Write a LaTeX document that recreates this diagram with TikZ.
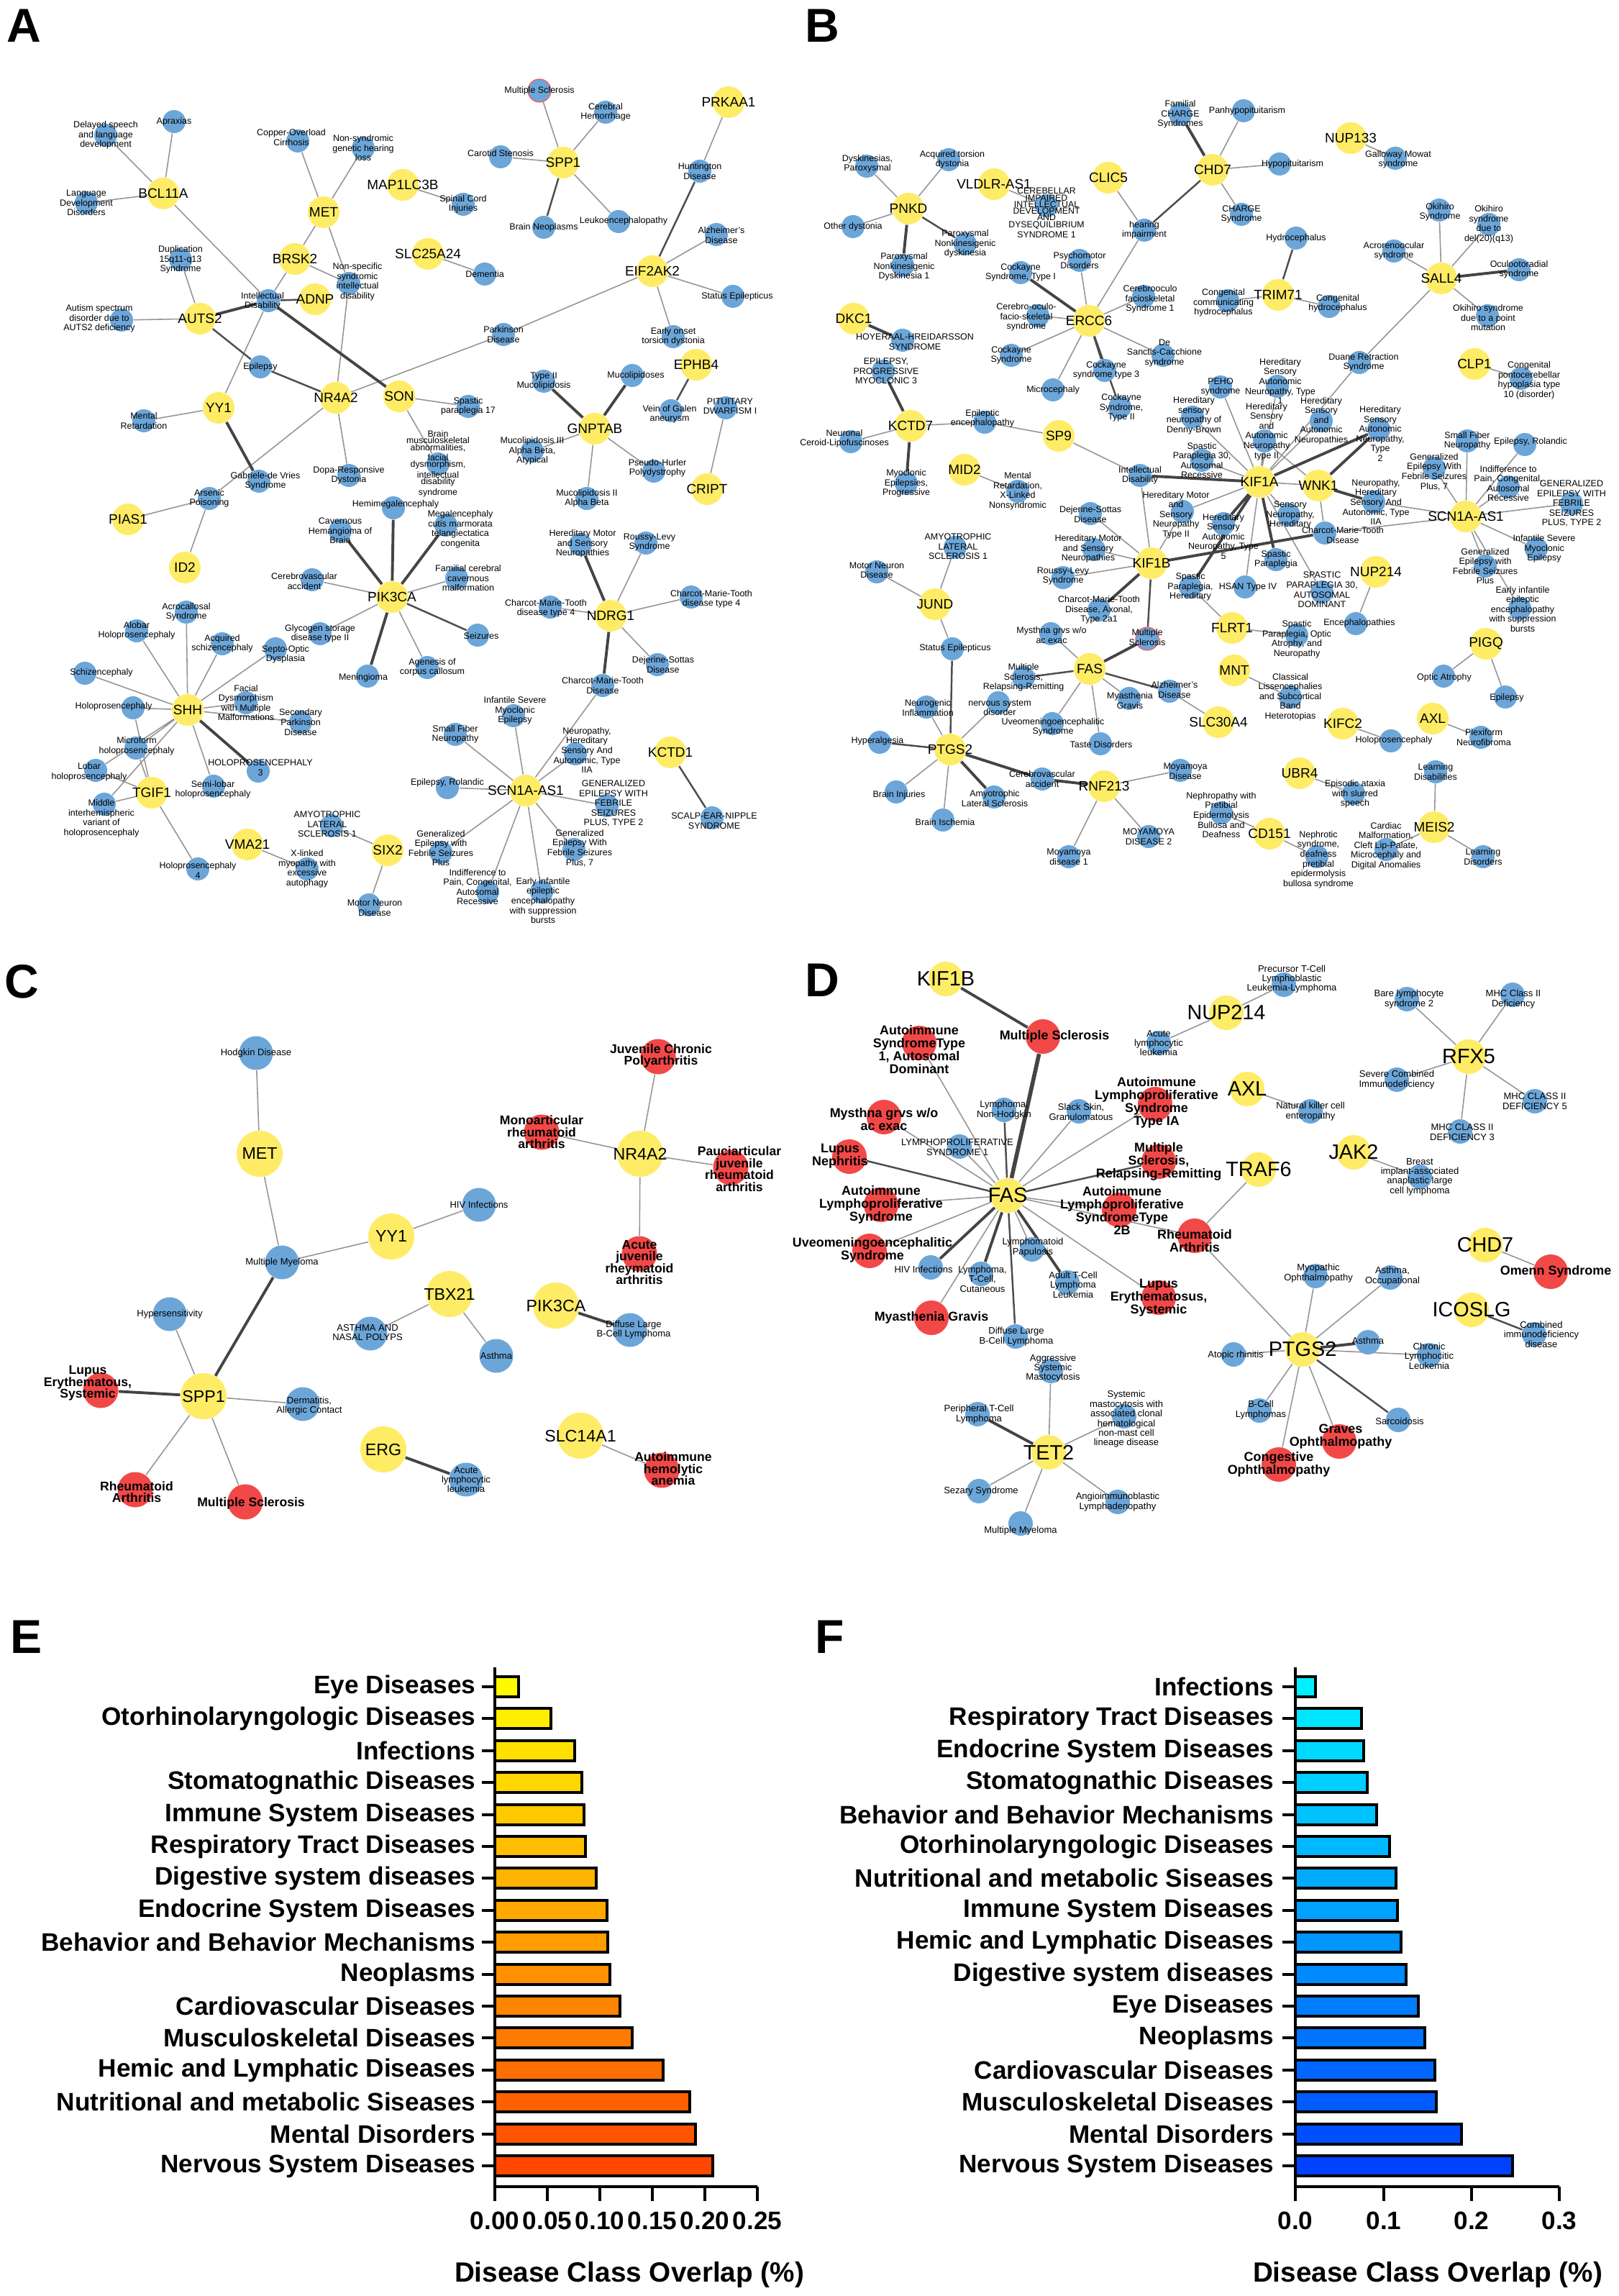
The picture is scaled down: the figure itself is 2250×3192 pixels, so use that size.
\documentclass[tikz,border=0pt]{standalone}
\usepackage{fontspec}
\setmainfont{Liberation Sans}
\usepackage{xcolor}

\definecolor{geneyel}{RGB}{255,236,102}
\definecolor{disblue}{RGB}{108,166,217}
\definecolor{disred}{RGB}{242,72,72}
\definecolor{edgegray}{RGB}{150,150,150}
\definecolor{edgedark}{RGB}{68,68,68}

\pgfdeclarelayer{edges}
\pgfsetlayers{edges,main}

% one circle now, its text kept for the end
\makeatletter
\newcommand{\labellist}{}
\newcommand{\netnode}[6][0,0]{%
  \node[#2] (#4) at (#5) {};%
  \g@addto@macro\labellist{\node[#3,shift={(#1)}] at (#5) {#6};}}
\makeatother
\newcommand{\gnA}[3]{\netnode{gene}{glab}{#1}{#2}{#3}}
\newcommand{\dsA}[4][0,0]{\netnode[#1]{dis}{dlab}{#2}{#3}{#4}}
\newcommand{\gnC}[3]{\netnode{cgene}{cglab}{#1}{#2}{#3}}
\newcommand{\dsC}[4][0,0]{\netnode[#1]{cdis}{cdlab}{#2}{#3}{#4}}
\newcommand{\rdC}[4][0,0]{\netnode[#1]{cred}{crlab}{#2}{#3}{#4}}
\newcommand{\gnD}[3]{\netnode{dgene}{dglab}{#1}{#2}{#3}}
\newcommand{\dsD}[4][0,0]{\netnode[#1]{ddis}{ddlab}{#2}{#3}{#4}}
\newcommand{\rdD}[4][0,0]{\netnode[#1]{dred}{drlab}{#2}{#3}{#4}}

\begin{document}
\begin{tikzpicture}[x=0.01cm, y=-0.01cm,
gene/.style={circle, fill=geneyel, minimum size=0.44cm, inner sep=0},
dis/.style={circle, fill=disblue, minimum size=0.32cm, inner sep=0},
msdis/.style={dis, draw=red!65, line width=0.35pt},
glab/.style={font=\fontsize{5.4}{6}\selectfont, inner sep=0},
dlab/.style={font=\fontsize{3.55}{3.85}\selectfont, align=center, inner sep=0},
tightlab/.style={dlab, font=\fontsize{3.5}{2.65}\selectfont},
cgene/.style={circle, fill=geneyel, minimum size=0.64cm, inner sep=0},
cdis/.style={circle, fill=disblue, minimum size=0.47cm, inner sep=0},
cred/.style={circle, fill=disred, minimum size=0.49cm, inner sep=0},
cglab/.style={font=\fontsize{6.6}{7}\selectfont, inner sep=0},
cdlab/.style={font=\fontsize{3.7}{3.7}\selectfont, align=center, inner sep=0},
crlab/.style={font=\bfseries\fontsize{5}{4.7}\selectfont, align=center, inner sep=0},
dgene/.style={circle, fill=geneyel, minimum size=0.48cm, inner sep=0},
ddis/.style={circle, fill=disblue, minimum size=0.34cm, inner sep=0},
dred/.style={circle, fill=disred, minimum size=0.48cm, inner sep=0},
dglab/.style={font=\fontsize{8.2}{9}\selectfont, inner sep=0},
ddlab/.style={font=\fontsize{3.7}{3.8}\selectfont, align=center, inner sep=0},
drlab/.style={font=\bfseries\fontsize{5.1}{5.1}\selectfont, align=center, inner sep=0},
e/.style={draw=edgegray, line width=0.45pt},
em/.style={draw=edgedark!85!gray, line width=0.7pt},
et/.style={draw=edgedark, line width=1.1pt},
ev/.style={draw=edgedark, line width=1.6pt},
letter/.style={font=\bfseries\fontsize{18.8}{20}\selectfont, inner sep=0},
bar/.style={draw=black, line width=0.9pt},
axis/.style={line width=1.3pt},
blab/.style={font=\bfseries\fontsize{10}{11}\selectfont, anchor=east, inner sep=0},
tlab/.style={font=\bfseries\fontsize{10}{11}\selectfont, inner sep=0},
ttl/.style={font=\bfseries\fontsize{11}{12}\selectfont, inner sep=0}]

\useasboundingbox (0,0) rectangle (2250,3192);
\begin{pgfonlayer}{edges}
\fill[white] (0,0) rectangle (2250,3192);
\end{pgfonlayer}

% panel letters
\node[letter] (lA) at (33,36) {A};
\node[letter] (lB) at (1143,36) {B};
\node[letter] (lC) at (30,1365) {C};
\node[letter] (lD) at (1143,1363) {D};
\node[letter] (lE) at (37,2276) {E};
\node[letter] (lF) at (1154,2276) {F};

% ---------------- panel A
\gnA{aBCL}{227,269}{BCL11A}
\dsA{aApr}{242,169}{Apraxias}
\dsA{aDel}{147,188}{Delayed speech\\and language\\development}
\dsA{aLang}{120,282}{Language\\Development\\Disorders}
\gnA{aMET}{450,295}{MET}
\dsA[-9,-5]{aCop}{414,196}{Copper-Overload\\Cirrhosis}
\dsA{aNsh}{505,206}{Non-syndromic\\genetic hearing\\loss}
\gnA{aBRSK}{410,360}{BRSK2}
\gnA{aADNP}{438,416}{ADNP}
\dsA[-8,1]{aID}{373,418}{Intellectual\\Disability}
\dsA[12,-2]{aNsid}{485,394}{Non-specific\\syndromic\\intellectual\\disability}
\dsA{aDup}{251,361}{Duplication\\15q11-q13\\Syndrome}
\gnA{aAUTS}{278,443}{AUTS2}
\dsA[-31,-2]{aAsd}{169,445}{Autism spectrum\\disorder due to\\AUTS2 deficiency}
\dsA{aEpi}{362,510}{Epilepsy}
\gnA{aNR4}{467,553}{NR4A2}
\gnA{aSON}{555,551}{SON}
\gnA{aYY1}{304,567}{YY1}
\dsA{aMR}{200,585}{Mental\\Retardation}
\gnA{aMAP}{560,257}{MAP1LC3B}
\gnA{aSLC}{595,353}{SLC25A24}
\dsA{aDem}{674,381}{Dementia}
\dsA{aSci}{644,284}{Spinal Cord\\Injuries}
\gnA{aSPP}{783,226}{SPP1}
\netnode{msdis}{dlab}{aMS}{750,126}{Multiple Sclerosis}
\dsA{aCh}{842,156}{Cerebral\\Hemorrhage}
\dsA[0,-5]{aCs}{696,218}{Carotid Stenosis}
\dsA{aBn}{756,316}{Brain Neoplasms}
\dsA[7,-1]{aLeu}{860,308}{Leukoencephalopathy}
\gnA{aPRK}{1013,142}{PRKAA1}
\dsA{aHun}{973,238}{Huntington\\Disease}
\gnA{aEIF}{907,377}{EIF2AK2}
\dsA[7,1]{aAlz}{996,326}{Alzheimer's\\Disease}
\dsA[6,0]{aSE}{1019,412}{Status Epilepticus}
\dsA{aEotd}{936,468}{Early onset\\torsion dystonia}
\dsA{aPD}{700,465}{Parkinson\\Disease}
\gnA{aEPH}{968,507}{EPHB4}
\dsA[-2,5]{aVog}{933,571}{Vein of Galen\\aneurysm}
\dsA[6,-2]{aPit}{1009,567}{PITUITARY\\DWARFISM I}
\gnA{aCRI}{983,680}{CRIPT}
\dsA{aSp17}{651,565}{Spastic\\paraplegia 17}
\gnA{aGNP}{827,596}{GNPTAB}
\dsA{aMl2}{756,530}{Type II\\Mucolipidosis}
\dsA[5,0]{aMls}{879,522}{Mucolipidoses}
\dsA{aMl3}{740,627}{Mucolipidosis III\\Alpha Beta,\\Atypical}
\dsA[5,-4]{aPhp}{909,655}{Pseudo-Hurler\\Polydystrophy}
\dsA{aMl2ab}{816,693}{Mucolipidosis II\\Alpha Beta}
\netnode{dis}{tightlab}{aBms}{609,645}{Brain\\musculoskeletal\\abnormalities,\\facial\\dysmorphism,\\intellectual\\disability\\syndrome}
\dsA{aDopa}{485,661}{Dopa-Responsive\\Dystonia}
\dsA[9,0]{aGdv}{360,669}{Gabriele-de Vries\\Syndrome}
\dsA{aArs}{291,693}{Arsenic\\Poisoning}
\gnA{aPIAS}{178,722}{PIAS1}
\gnA{aID2}{257,789}{ID2}
\dsA[3,-5]{aHme}{547,706}{Hemimegalencephaly}
\dsA{aCav}{473,738}{Cavernous\\Hemangioma of\\Brain}
\dsA[-11,2]{aCva}{434,806}{Cerebrovascular\\accident}
\gnA{aPIK}{545,830}{PIK3CA}
\dsA[20,6]{aMeg}{620,730}{Megalencephaly\\cutis marmorata\\telangiectatica\\congenita}
\dsA[16,0]{aFcc}{635,804}{Familial cerebral\\cavernous\\malformation}
\dsA[5,1]{aSei}{664,883}{Seizures}
\dsA[7,0]{aAge}{594,928}{Agenesis of\\corpus callosum}
\dsA[-6,2]{aMen}{511,940}{Meningioma}
\dsA{aGly}{445,881}{Glycogen storage\\disease type II}
\dsA[14,8]{aSod}{383,902}{Septo-Optic\\Dysplasia}
\dsA{aAcs}{309,895}{Acquired\\schizencephaly}
\dsA{aAcr}{259,851}{Acrocallosal\\Syndrome}
\dsA{aAlo}{190,877}{Alobar\\Holoprosencephaly}
\dsA[23,-1]{aSch}{118,936}{Schizencephaly}
\gnA{aSHH}{261,987}{SHH}
\dsA[-27,-2]{aHol}{185,984}{Holoprosencephaly}
\dsA{aFac}{342,977}{Facial\\Dysmorphism\\with Multiple\\Malformations}
\dsA{aSec}{418,1004}{Secondary\\Parkinson\\Disease}
\dsA[1,-3]{aMic}{189,1040}{Microform\\holoprosencephaly}
\dsA[3,-5]{aHpe}{359,1072}{HOLOPROSENCEPHALY\\3}
\dsA[-9,2]{aLob}{133,1071}{Lobar\\holoprosencephaly}
\dsA[-1,5]{aSemi}{297,1093}{Semi-lobar\\holoprosencephaly}
\gnA{aTGIF}{211,1102}{TGIF1}
\dsA[-4,20]{aMid}{145,1118}{Middle\\interhemispheric\\variant of\\holoprosencephaly}
\dsA[0,2]{aHol4}{275,1208}{Holoprosencephaly\\4}
\gnA{aVMA}{344,1174}{VMA21}
\dsA{aXlm}{427,1208}{X-linked\\myopathy with\\excessive\\autophagy}
\dsA[-6,-2]{aAls}{461,1148}{AMYOTROPHIC\\LATERAL\\SCLEROSIS 1}
\gnA{aSIX}{539,1182}{SIX2}
\dsA[8,4]{aMnd}{513,1258}{Motor Neuron\\Disease}
\gnA{aSCN}{731,1099}{SCN1A-AS1}
\dsA{aCmt}{838,953}{Charcot-Marie-Tooth\\Disease}
\gnA{aNDR}{849,856}{NDRG1}
\dsA[3,-1]{aHmsn}{807,757}{Hereditary Motor\\and Sensory\\Neuropathies}
\dsA[5,-1]{aRl}{898,755}{Roussy-Levy\\Syndrome}
\dsA[-6,2]{aCmta}{765,844}{Charcot-Marie-Tooth\\disease type 4}
\dsA[28,3]{aCmtb}{961,830}{Charcot-Marie-Tooth\\disease type 4}
\dsA[8,0]{aDss}{914,924}{Dejerine-Sottas\\Disease}
\dsA[2,-7]{aIsme}{714,995}{Infantile Severe\\Myoclonic\\Epilepsy}
\dsA{aSfn}{633,1021}{Small Fiber\\Neuropathy}
\dsA[16,-5]{aHsan}{800,1048}{Neuropathy,\\Hereditary\\Sensory And\\Autonomic, Type\\IIA}
\dsA[0,-7]{aRol}{622,1095}{Epilepsy, Rolandic}
\dsA[9,-3]{aGefsb}{844,1120}{GENERALIZED\\EPILEPSY WITH\\FEBRILE\\SEIZURES\\PLUS, TYPE 2}
\gnA{aKCT}{932,1046}{KCTD1}
\dsA[3,4]{aSen}{990,1137}{SCALP-EAR-NIPPLE\\SYNDROME}
\dsA[0,-6]{aGefs}{613,1185}{Generalized\\Epilepsy with\\Febrile Seizures\\Plus}
\dsA[8,-2]{aGefsc}{798,1181}{Generalized\\Epilepsy With\\Febrile Seizures\\Plus, 7}
\dsA[-14,-7]{aInd}{678,1240}{Indifference to\\Pain, Congenital,\\Autosomal\\Recessive}
\dsA[2,12]{aEie}{753,1240}{Early infantile\\epileptic\\encephalopathy\\with suppression\\bursts}

\begin{pgfonlayer}{edges}
\draw[e] (aBCL)--(aApr) (aBCL)--(aDel) (aBCL)--(aLang) (aBCL)--(aID)
  (aMET)--(aCop) (aMET)--(aNsh) (aMET)--(aBRSK) (aMET)--(aNsid) (aBRSK)--(aNsid) (aBRSK)--(aID) (aNsid)--(aNR4)
  (aAUTS)--(aDup) (aAUTS)--(aAsd) (aID)--(aYY1) (aNR4)--(aPD) (aPD)--(aEIF) (aSON)--(aSp17) (aSON)--(aBms)
  (aYY1)--(aMR) (aNR4)--(aArs) (aNR4)--(aDopa) (aPIAS)--(aArs) (aID2)--(aArs) (aMAP)--(aSci) (aSLC)--(aDem)
  (aSPP)--(aMS) (aSPP)--(aCh) (aSPP)--(aCs) (aSPP)--(aLeu) (aPRK)--(aHun) (aEIF)--(aAlz) (aEIF)--(aSE) (aEIF)--(aEotd)
  (aCRI)--(aPit) (aGNP)--(aMl3) (aGNP)--(aMl2ab) (aGNP)--(aPhp)
  (aPIK)--(aCva) (aPIK)--(aGly) (aPIK)--(aFcc) (aPIK)--(aAge)
  (aSHH)--(aAcr) (aSHH)--(aAlo) (aSHH)--(aAcs) (aSHH)--(aSch) (aSHH)--(aHol) (aSHH)--(aFac) (aSHH)--(aSec)
  (aSHH)--(aSemi) (aSHH)--(aMic) (aSHH)--(aLob) (aSHH)--(aMid) (aSHH)--(aSod)
  (aTGIF)--(aHol) (aTGIF)--(aMic) (aTGIF)--(aLob) (aTGIF)--(aMid) (aTGIF)--(aHol4)
  (aVMA)--(aXlm) (aSIX)--(aAls) (aSIX)--(aMnd)
  (aNDR)--(aRl) (aNDR)--(aCmta) (aNDR)--(aCmtb) (aNDR)--(aDss) (aCmt)--(aSCN)
  (aSCN)--(aIsme) (aSCN)--(aSfn) (aSCN)--(aHsan) (aSCN)--(aRol) (aSCN)--(aGefsb) (aSCN)--(aGefs)
  (aSCN)--(aGefsc) (aSCN)--(aInd) (aSCN)--(aEie);
\draw[em] (aADNP)--(aID) (aAUTS)--(aEpi) (aEpi)--(aNR4) (aSPP)--(aBn) (aHun)--(aEIF) (aEPH)--(aVog)
  (aPIK)--(aSei) (aKCT)--(aSen);
\draw[et] (aAUTS)--(aID) (aID)--(aSON) (aYY1)--(aGdv) (aGNP)--(aMl2) (aGNP)--(aMls) (aPIK)--(aHme)
  (aPIK)--(aCav) (aPIK)--(aMeg) (aPIK)--(aMen) (aSHH)--(aHpe) (aNDR)--(aHmsn) (aNDR)--(aCmt);
\end{pgfonlayer}

% ---------------- panel B
\gnA{bPNKD}{1263,290}{PNKD}
\dsA[1,-3]{bDysk}{1205,231}{Dyskinesias,\\Paroxysmal}
\dsA[5,0]{bAtd}{1319,222}{Acquired torsion\\dystonia}
\dsA{bOd}{1186,315}{Other dystonia}
\dsA[2,2]{bPnkda}{1255,369}{Paroxysmal\\Nonkinesigenic\\Dyskinesia 1}
\dsA{bPnd}{1342,339}{Paroxysmal\\Nonkinesigenic\\dyskinesia}
\gnA{bVLD}{1382,256}{VLDLR-AS1}
\netnode[0,10]{dis}{tightlab}{bCer}{1455,286}{CEREBELLAR\\IMPAIRED\\INTELLECTUAL\\DEVELOPMENT\\AND\\DYSEQUILIBRIUM\\SYNDROME 1}
\gnA{bCLIC}{1541,247}{CLIC5}
\dsA{bHi}{1591,320}{hearing\\impairment}
\gnA{bCHD}{1686,236}{CHD7}
\dsA{bFcs}{1641,159}{Familial\\CHARGE\\Syndromes}
\dsA[5,0]{bPan}{1729,154}{Panhypopituitarism}
\dsA[18,0]{bHyp}{1779,228}{Hypopituitarism}
\dsA{bCs}{1726,298}{CHARGE\\Syndrome}
\gnA{bNUP}{1878,192}{NUP133}
\dsA[4,2]{bGal}{1940,220}{Galloway Mowat\\syndrome}
\gnA{bTRIM}{1777,410}{TRIM71}
\dsA{bHyd}{1802,331}{Hydrocephalus}
\dsA[-6,3]{bCch}{1707,418}{Congenital\\communicating\\hydrocephalus}
\dsA[12,-4]{bChy}{1848,426}{Congenital\\hydrocephalus}
\gnA{bSALL}{2004,387}{SALL4}
\dsA[1,3]{bOki}{2001,292}{Okihiro\\Syndrome}
\dsA{bOkd}{2070,312}{Okihiro\\syndrome\\due to\\del(20)(q13)}
\dsA{bAcro}{1938,349}{Acrorenoocular\\syndrome}
\dsA{bOcu}{2112,375}{Oculootoradial\\syndrome}
\dsA[1,3]{bOkp}{2068,439}{Okihiro syndrome\\due to a point\\mutation}
\dsA[6,0]{bDua}{1890,504}{Duane Retraction\\Syndrome}
\gnA{bCLP}{2050,506}{CLP1}
\dsA[11,3]{bCph}{2115,526}{Congenital\\pontocerebellar\\hypoplasia type\\10 (disorder)}
\gnA{bERCC}{1514,446}{ERCC6}
\dsA{bPsy}{1501,362}{Psychomotor\\Disorders}
\dsA{bCka}{1419,379}{Cockayne\\Syndrome, Type I}
\dsA[9,4]{bCofsa}{1590,412}{Cerebrooculo\\facioskeletal\\Syndrome 1}
\dsA[-16,2]{bCofs}{1443,439}{Cerebro-oculo-\\facio-skeletal\\syndrome}
\dsA{bCk}{1406,494}{Cockayne\\Syndrome}
\dsA[2,-3]{bDsc}{1617,494}{De\\Sanctis-Cacchione\\syndrome}
\dsA[2,0]{bCkc}{1536,515}{Cockayne\\syndrome type 3}
\dsA{bMic}{1464,542}{Microcephaly}
\dsA[2,1]{bCkb}{1557,566}{Cockayne\\Syndrome,\\Type II}
\gnA{bDKC}{1187,443}{DKC1}
\dsA[17,2]{bHh}{1255,473}{HOYERAAL-HREIDARSSON\\SYNDROME}
\dsA[4,0]{bEpm}{1228,516}{EPILEPSY,\\PROGRESSIVE\\MYOCLONIC 3}
\gnA{bKCT}{1266,592}{KCTD7}
\dsA[-9,-4]{bNcl}{1183,614}{Neuronal\\Ceroid-Lipofuscinoses}
\dsA[-3,-5]{bEe}{1369,587}{Epileptic\\encephalopathy}
\gnA{bSP}{1472,606}{SP9}
\dsA{bMep}{1260,672}{Myoclonic\\Epilepsies,\\Progressive}
\gnA{bMID}{1341,653}{MID2}
\dsA{bMrx}{1415,683}{Mental\\Retardation,\\X-Linked\\Nonsyndromic}
\gnA{bJUND}{1300,840}{JUND}
\dsA[4,-1]{bAls}{1328,761}{AMYOTROPHIC\\LATERAL\\SCLEROSIS 1}
\dsA[0,-2]{bMnd}{1219,795}{Motor Neuron\\Disease}
\dsA[4,-1]{bSE}{1324,902}{Status Epilepticus}
\gnA{bPTGS}{1321,1042}{PTGS2}
\dsA[2,1]{bNi}{1288,983}{Neurogenic\\Inflammation}
\dsA[2,7]{bNsd}{1388,977}{nervous system\\disorder}
\dsA[-3,-2]{bHyq}{1223,1032}{Hyperalgesia}
\dsA[4,4]{bBi}{1246,1101}{Brain Injuries}
\dsA[3,3]{bBis}{1311,1140}{Brain Ischemia}
\dsA[1,2]{bAlsb}{1382,1108}{Amyotrophic\\Lateral Sclerosis}
\dsA{bCva}{1449,1083}{Cerebrovascular\\accident}
\gnA{bRNF}{1535,1093}{RNF213}
\dsA{bMma}{1486,1191}{Moyamoya\\disease 1}
\dsA{bMmb}{1597,1163}{MOYAMOYA\\DISEASE 2}
\dsA[7,1]{bMmd}{1641,1071}{Moyamoya\\Disease}
\gnA{bFAS}{1515,930}{FAS}
\netnode[0,-2]{msdis}{dlab}{bMS}{1595,888}{Multiple\\Sclerosis}
\dsA[1,2]{bMg}{1461,881}{Mysthna grvs w/o\\ac exac}
\dsA{bMsrr}{1423,942}{Multiple\\Sclerosis,\\Relapsing-Remitting}
\dsA[1,3]{bMyg}{1570,971}{Myasthenia\\Gravis}
\dsA[7,-2]{bAlz}{1626,961}{Alzheimer's\\Disease}
\dsA[1,5]{bUveo}{1463,1006}{Uveomeningoencephalitic\\Syndrome}
\dsA[1,1]{bTd}{1530,1034}{Taste Disorders}
\gnA{bSLC}{1694,1004}{SLC30A4}
\gnA{bKIFb}{1601,783}{KIF1B}
\dsA{bID}{1585,661}{Intellectual\\Disability}
\dsA[0,1]{bDss}{1516,714}{Dejerine-Sottas\\Disease}
\dsA[-8,-1]{bHmsn}{1521,764}{Hereditary Motor\\and Sensory\\Neuropathies}
\dsA[0,-2]{bRl}{1478,803}{Roussy-Levy\\Syndrome}
\dsA{bCmta}{1528,848}{Charcot-Marie-Tooth\\Disease, Axonal,\\Type 2a1}
\dsA[-9,5]{bHmsnb}{1644,711}{Hereditary Motor\\and\\Sensory\\Neuropathy\\Type II}
\dsA{bSph}{1655,816}{Spastic\\Paraplegia,\\Hereditary}
\gnA{bKIFa}{1751,670}{KIF1A}
\gnA{bWNK}{1833,675}{WNK1}
\dsA{bPeho}{1697,538}{PEHO\\syndrome}
\dsA[4,-7]{bHsana}{1776,537}{Hereditary\\Sensory\\Autonomic\\Neuropathy, Type\\1}
\dsA[2,-2]{bDb}{1658,580}{Hereditary\\sensory\\neuropathy of\\Denny-Brown}
\dsA[3,-13]{bHsanb}{1758,613}{Hereditary\\Sensory\\and\\Autonomic\\Neuropathy\\type II}
\dsA{bHsann}{1837,585}{Hereditary\\Sensory\\and\\Autonomic\\Neuropathies}
\dsA[2,6]{bHsant}{1917,597}{Hereditary\\Sensory\\Autonomic\\Neuropathy,\\Type\\2}
\dsA{bSpr}{1671,640}{Spastic\\Paraplegia 30,\\Autosomal\\Recessive}
\dsA[0,18]{bHsanf}{1701,728}{Hereditary\\Sensory\\Autonomic\\Neuropathy, Type\\5}
\dsA[2,0]{bSnh}{1792,716}{Sensory\\Neuropathy,\\Hereditary}
\dsA[25,3]{bCmt}{1842,741}{Charcot-Marie-Tooth\\Disease}
\dsA{bSpl}{1774,778}{Spastic\\Paraplegia}
\dsA[4,0]{bHsanv}{1731,816}{HSAN Type IV}
\dsA[0,-3]{bSpd}{1838,823}{SPASTIC\\PARAPLEGIA 30,\\AUTOSOMAL\\DOMINANT}
\dsA[3,0]{bNhsa}{1910,698}{Neuropathy,\\Hereditary\\Sensory And\\Autonomic, Type\\IIA}
\gnA{bNUPb}{1913,795}{NUP214}
\gnA{bSCN}{2038,718}{SCN1A-AS1}
\dsA{bSfn}{2040,613}{Small Fiber\\Neuropathy}
\dsA[8,-4]{bRol}{2120,618}{Epilepsy, Rolandic}
\dsA[0,5]{bGefsc}{1994,651}{Generalized\\Epilepsy With\\Febrile Seizures\\Plus, 7}
\dsA[0,-5]{bInd}{2097,677}{Indifference to\\Pain, Congenital,\\Autosomal\\Recessive}
\dsA{bGefsb}{2185,700}{GENERALIZED\\EPILEPSY WITH\\FEBRILE\\SEIZURES\\PLUS, TYPE 2}
\dsA[11,0]{bIsme}{2136,763}{Infantile Severe\\Myoclonic\\Epilepsy}
\dsA{bGefs}{2065,787}{Generalized\\Epilepsy with\\Febrile Seizures\\Plus}
\dsA[4,1]{bEie}{2113,846}{Early infantile\\epileptic\\encephalopathy\\with suppression\\bursts}
\dsA[5,-1]{bEnc}{1885,867}{Encephalopathies}
\gnA{bFLRT}{1713,873}{FLRT1}
\dsA[0,6]{bSpoa}{1803,883}{Spastic\\Paraplegia, Optic\\Atrophy, and\\Neuropathy}
\gnA{bMNT}{1716,932}{MNT}
\dsA{bCl}{1794,969}{Classical\\Lissencephalies\\and Subcortical\\Band\\Heterotopias}
\gnA{bKIFC}{1867,1006}{KIFC2}
\dsA[4,-1]{bHol}{1934,1030}{Holoprosencephaly}
\gnA{bAXL}{1992,999}{AXL}
\dsA[4,0]{bPn}{2059,1025}{Plexiform\\Neurofibroma}
\gnA{bPIGQ}{2066,895}{PIGQ}
\dsA[1,2]{bOa}{2007,940}{Optic Atrophy}
\dsA[2,1]{bEpi}{2093,969}{Epilepsy}
\gnA{bUBR}{1807,1075}{UBR4}
\dsA[2,1]{bEa}{1882,1103}{Episodic ataxia\\with slurred\\speech}
\dsA{bLd}{1996,1073}{Learning\\Disabilities}
\gnA{bMEIS}{1994,1150}{MEIS2}
\dsA[0,-5]{bCard}{1927,1181}{Cardiac\\Malformation,\\Cleft Lip-Palate,\\Microcephaly and\\Digital Anomalies}
\dsA{bLdis}{2062,1191}{Learning\\Disorders}
\gnA{bCD}{1765,1159}{CD151}
\dsA[0,3]{bNep}{1698,1130}{Nephropathy with\\Pretibial\\Epidermolysis\\Bullosa and\\Deafness}
\dsA[2,4]{bNs}{1831,1191}{Nephrotic\\syndrome,\\deafness\\pretibial\\epidermolysis\\bullosa syndrome}

\begin{pgfonlayer}{edges}
\draw[e] (bPNKD)--(bDysk) (bPNKD)--(bAtd) (bPNKD)--(bOd) (bVLD)--(bCer) (bCLIC)--(bHi) (bHi)--(bERCC)
  (bCHD)--(bPan) (bCHD)--(bHyp) (bCHD)--(bCs) (bNUP)--(bGal) (bTRIM)--(bCch) (bTRIM)--(bChy)
  (bSALL)--(bOki) (bSALL)--(bOkd) (bSALL)--(bAcro) (bSALL)--(bOkp) (bSALL)--(bDua) (bDua)--(bKIFa) (bCLP)--(bCph)
  (bERCC)--(bPsy) (bERCC)--(bCofsa) (bERCC)--(bCofs) (bERCC)--(bCk) (bERCC)--(bDsc) (bERCC)--(bMic)
  (bKCT)--(bNcl) (bKCT)--(bEe) (bEe)--(bSP) (bSP)--(bID) (bMID)--(bMrx)
  (bJUND)--(bAls) (bJUND)--(bMnd) (bJUND)--(bSE)
  (bPTGS)--(bNi) (bPTGS)--(bNsd) (bPTGS)--(bBi) (bPTGS)--(bBis)
  (bRNF)--(bMma) (bRNF)--(bMmb) (bRNF)--(bMmd)
  (bFAS)--(bMg) (bFAS)--(bMyg) (bFAS)--(bUveo) (bFAS)--(bTd) (bAlz)--(bSLC)
  (bKIFb)--(bID) (bKIFb)--(bDss) (bKIFb)--(bHmsn) (bKIFb)--(bRl) (bKIFb)--(bHmsnb)
  (bKIFa)--(bPeho) (bKIFa)--(bHsana) (bKIFa)--(bDb) (bKIFa)--(bHsanb) (bKIFa)--(bHsann) (bKIFa)--(bSpr)
  (bKIFa)--(bHmsnb) (bKIFa)--(bHsanv) (bKIFa)--(bSpd) (bKIFa)--(bWNK) (bKIFa)--(bSnh)
  (bWNK)--(bCmt) (bWNK)--(bHsanb) (bNhsa)--(bSCN) (bCmt)--(bSCN)
  (bSCN)--(bSfn) (bSCN)--(bRol) (bSCN)--(bGefsc) (bSCN)--(bInd) (bSCN)--(bGefsb) (bSCN)--(bIsme)
  (bSCN)--(bGefs) (bSCN)--(bEie)
  (bNUPb)--(bEnc) (bFLRT)--(bSpoa) (bSph)--(bFLRT) (bMNT)--(bCl) (bKIFC)--(bHol) (bAXL)--(bPn)
  (bPIGQ)--(bOa) (bPIGQ)--(bEpi) (bUBR)--(bEa) (bMEIS)--(bLd) (bMEIS)--(bCard) (bMEIS)--(bLdis)
  (bCD)--(bNep) (bCD)--(bNs);
\draw[em] (bPNKD)--(bPnd) (bTRIM)--(bHyd) (bERCC)--(bCkc) (bERCC)--(bCkb) (bHi)--(bCHD) (bSE)--(bPTGS)
  (bPTGS)--(bHyq) (bFAS)--(bMsrr) (bFAS)--(bAlz) (bKIFb)--(bMS);
\draw[et] (bPNKD)--(bPnkda) (bCHD)--(bFcs) (bSALL)--(bOcu) (bERCC)--(bCka) (bDKC)--(bHh) (bKCT)--(bEpm)
  (bKCT)--(bMep) (bPTGS)--(bAlsb) (bPTGS)--(bCva) (bCva)--(bRNF) (bFAS)--(bMS) (bKIFb)--(bCmta)
  (bKIFb)--(bCmt) (bKIFa)--(bID) (bKIFa)--(bHsant) (bKIFa)--(bHsanf) (bKIFa)--(bSpl) (bKIFa)--(bSph)
  (bWNK)--(bHsant) (bWNK)--(bNhsa);
\end{pgfonlayer}

% ---------------- panel C
\gnC{cMET}{361,1604}{MET}
\dsC{cHod}{356,1464}{Hodgkin Disease}
\dsC{cMM}{392,1755}{Multiple Myeloma}
\gnC{cYY}{544,1719}{YY1}
\dsC{cHIV}{666,1675}{HIV Infections}
\gnC{cSPP}{283,1941}{SPP1}
\dsC{cHyp}{236,1827}{Hypersensitivity}
\rdC[-18,-10]{cLup}{140,1933}{Lupus\\Erythematous,\\Systemic}
\dsC[9,3]{cDer}{421,1952}{Dermatitis,\\Allergic Contact}
\rdC[2,3]{cRA}{188,2071}{Rheumatoid\\Arthritis}
\rdC[8,2]{cMS}{341,2088}{Multiple Sclerosis}
\gnC{cTBX}{625,1799}{TBX21}
\dsC[-4,-1]{cAnp}{515,1854}{ASTHMA AND\\NASAL POLYPS}
\dsC{cAst}{690,1885}{Asthma}
\gnC{cNR}{890,1604}{NR4A2}
\rdC[4,-1]{cJcp}{915,1469}{Juvenile Chronic\\Polyarthritis}
\rdC{cMono}{753,1574}{Monoarticular\\rheumatoid\\arthritis}
\rdC[12,2]{cPau}{1016,1623}{Pauciarticular\\juvenile\\rheumatoid\\arthritis}
\rdC[0,12]{cAcu}{889,1743}{Acute\\juvenile\\rheymatoid\\arthritis}
\gnC{cPIK}{773,1815}{PIK3CA}
\dsC[5,0]{cDlb}{876,1849}{Diffuse Large\\B-Cell Lymphoma}
\gnC{cERG}{533,2015}{ERG}
\dsC{cAll}{648,2057}{Acute\\lymphocytic\\leukemia}
\gnC{cSLC}{807,1996}{SLC14A1}
\rdC[16,-2]{cAiha}{920,2044}{Autoimmune\\hemolytic\\anemia}

\begin{pgfonlayer}{edges}
\draw[e] (cHod)--(cMET) (cMET)--(cMM) (cMM)--(cYY) (cYY)--(cHIV) (cSPP)--(cHyp) (cSPP)--(cDer) (cSPP)--(cRA)
  (cSPP)--(cMS) (cTBX)--(cAnp) (cTBX)--(cAst) (cNR)--(cJcp) (cNR)--(cMono) (cNR)--(cPau) (cNR)--(cAcu)
  (cSLC)--(cAiha);
\draw[et] (cMM)--(cSPP) (cSPP)--(cLup) (cPIK)--(cDlb) (cERG)--(cAll);
\end{pgfonlayer}

% ---------------- panel D
\gnD{dKIF}{1315,1361}{KIF1B}
\rdD[16,0]{dMS}{1450,1441}{Multiple Sclerosis}
\rdD[0,9]{dAsa}{1278,1450}{Autoimmune\\SyndromeType\\1, Autosomal\\Dominant}
\dsD{dLnh}{1396,1543}{Lymphoma,\\Non-Hodgkin}
\dsD[3,1]{dSsg}{1500,1545}{Slack Skin,\\Granulomatous}
\rdD[2,-2]{dAlpa}{1606,1535}{Autoimmune\\Lymphoproliferative\\Syndrome\\Type IA}
\rdD[0,3]{dMg}{1229,1553}{Mysthna grvs w/o\\ac exac}
\dsD[-3,1]{dLps}{1334,1594}{LYMPHOPROLIFERATIVE\\SYNDROME 1}
\rdD[-13,-1]{dLn}{1181,1608}{Lupus\\Nephritis}
\rdD{dMsrr}{1611,1615}{Multiple\\Sclerosis,\\Relapsing-Remitting}
\gnD{dFAS}{1401,1662}{FAS}
\rdD{dAlps}{1225,1675}{Autoimmune\\Lymphoproliferative\\Syndrome}
\rdD[4,1]{dAlpb}{1556,1682}{Autoimmune\\Lymphoproliferative\\SyndromeType\\2B}
\rdD[4,-1]{dUveo}{1209,1739}{Uveomeningoencephalitic\\Syndrome}
\rdD[0,7]{dRA}{1661,1718}{Rheumatoid\\Arthritis}
\dsD[1,-3]{dLp}{1435,1737}{Lymphomatoid\\Papulosis}
\dsD[-10,3]{dHIV}{1294,1762}{HIV Infections}
\dsD[2,7]{dLtc}{1364,1771}{Lymphoma,\\T-Cell,\\Cutaneous}
\dsD[8,3]{dAtl}{1484,1783}{Adult T-Cell\\Lymphoma\\Leukemia}
\rdD{dSle}{1611,1804}{Lupus\\Erythematosus,\\Systemic}
\rdD{dMyg}{1295,1832}{Myasthenia Gravis}
\dsD[1,0]{dDlb}{1412,1858}{Diffuse Large\\B-Cell Lymphoma}
\dsD[3,-4]{dAsm}{1461,1906}{Aggressive\\Systemic\\Mastocytosis}
\dsD[2,0]{dPtcl}{1359,1966}{Peripheral T-Cell\\Lymphoma}
\dsD[3,4]{dSm}{1563,1969}{Systemic\\mastocytosis with\\associated clonal\\hematological\\non-mast cell\\lineage disease}
\gnD{dTET}{1458,2019}{TET2}
\dsD[3,0]{dSez}{1361,2073}{Sezary Syndrome}
\dsD{dAng}{1554,2088}{Angioimmunoblastic\\Lymphadenopathy}
\dsD[0,10]{dMM}{1419,2118}{Multiple Myeloma}
\gnD{dNUP}{1705,1408}{NUP214}
\dsD[11,-8]{dPre}{1785,1369}{Precursor T-Cell\\Lymphoblastic\\Leukemia-Lymphoma}
\dsD{dAll}{1611,1450}{Acute\\lymphocytic\\leukemia}
\gnD{dAXL}{1734,1514}{AXL}
\dsD{dNkc}{1822,1545}{Natural killer cell\\enteropathy}
\gnD{dTRAF}{1750,1626}{TRAF6}
\gnD{dJAK}{1882,1602}{JAK2}
\dsD{dBia}{1974,1636}{Breast\\implant-associated\\anaplastic large\\cell lymphoma}
\gnD{dRFX}{2042,1469}{RFX5}
\dsD[3,0]{dBls}{1956,1389}{Bare lymphocyte\\syndrome 2}
\dsD[1,6]{dMhc}{2103,1383}{MHC Class II\\Deficiency}
\dsD{dScid}{1942,1501}{Severe Combined\\Immunodeficiency}
\dsD{dMhce}{2134,1531}{MHC CLASS II\\DEFICIENCY 5}
\dsD[3,1]{dMhcc}{2030,1573}{MHC CLASS II\\DEFICIENCY 3}
\gnD{dCHD}{2065,1731}{CHD7}
\rdD[7,0]{dOm}{2156,1768}{Omenn Syndrome}
\gnD{dICOS}{2046,1821}{ICOSLG}
\dsD[10,0]{dCid}{2133,1855}{Combined\\immunodeficiency\\disease}
\gnD{dPTGS}{1811,1876}{PTGS2}
\dsD[4,-4]{dMyo}{1829,1774}{Myopathic\\Ophthalmopathy}
\dsD[3,-2]{dAo}{1933,1776}{Asthma,\\Occupational}
\dsD[0,-2]{dAst}{1902,1866}{Asthma}
\dsD[0,1]{dCll}{1987,1884}{Chronic\\Lymphocitic\\Leukemia}
\dsD[3,1]{dAr}{1715,1883}{Atopic rhinitis}
\dsD[2,-1]{dBcl}{1751,1961}{B-Cell\\Lymphomas}
\dsD[2,2]{dSar}{1944,1974}{Sarcoidosis}
\rdD[2,-7]{dGo}{1862,2004}{Graves\\Ophthalmopathy}
\rdD{dCo}{1778,2036}{Congestive\\Ophthalmopathy}

\begin{pgfonlayer}{edges}
\draw[e] (dFAS)--(dAsa) (dFAS)--(dSsg) (dFAS)--(dAlpa) (dFAS)--(dMg) (dFAS)--(dLps) (dFAS)--(dAlps)
  (dFAS)--(dAlpb) (dFAS)--(dUveo) (dFAS)--(dLp) (dFAS)--(dSle) (dFAS)--(dMyg) (dFAS)--(dRA)
  (dTRAF)--(dRA) (dRA)--(dPTGS)
  (dTET)--(dAsm) (dTET)--(dSm) (dTET)--(dSez) (dTET)--(dAng) (dTET)--(dMM) (dNUP)--(dPre) (dNUP)--(dAll)
  (dAXL)--(dNkc) (dJAK)--(dBia)
  (dRFX)--(dBls) (dRFX)--(dMhc) (dRFX)--(dScid) (dRFX)--(dMhce) (dRFX)--(dMhcc) (dCHD)--(dOm)
  (dPTGS)--(dMyo) (dPTGS)--(dAo) (dPTGS)--(dCll) (dPTGS)--(dAr) (dPTGS)--(dBcl) (dPTGS)--(dGo) (dPTGS)--(dCo);
\draw[em] (dFAS)--(dLnh) (dFAS)--(dLn) (dFAS)--(dMsrr) (dFAS)--(dDlb) (dICOS)--(dCid) (dPTGS)--(dSar);
\draw[et] (dKIF)--(dMS) (dFAS)--(dHIV) (dFAS)--(dLtc) (dFAS)--(dAtl) (dTET)--(dPtcl) (dPTGS)--(dAst);
\draw[ev] (dFAS)--(dMS);
\end{pgfonlayer}

% all network texts on top
\labellist

% ---------------- panel E
\draw[axis] (688,2318) -- (688,3040) -- (1053,3040);
\draw[axis] (688,3040) -- ++(0,20) (761,3040) -- ++(0,20) (834,3040) -- ++(0,20)
  (907,3040) -- ++(0,20) (980,3040) -- ++(0,20) (1053,3040) -- ++(0,20);
\draw[axis] (688,2345) -- ++(-18,0) (688,2389) -- ++(-18,0) (688,2434) -- ++(-18,0) (688,2478) -- ++(-18,0)
  (688,2523) -- ++(-18,0) (688,2567) -- ++(-18,0) (688,2611) -- ++(-18,0) (688,2656) -- ++(-18,0)
  (688,2700) -- ++(-18,0) (688,2745) -- ++(-18,0) (688,2789) -- ++(-18,0) (688,2833) -- ++(-18,0)
  (688,2878) -- ++(-18,0) (688,2922) -- ++(-18,0) (688,2967) -- ++(-18,0) (688,3011) -- ++(-18,0);
\node[tlab] (et0) at (688,3087) {0.00};
\node[tlab] (et1) at (761,3087) {0.05};
\node[tlab] (et2) at (834,3087) {0.10};
\node[tlab] (et3) at (907,3087) {0.15};
\node[tlab] (et4) at (980,3087) {0.20};
\node[tlab] (et5) at (1053,3087) {0.25};
\node[ttl] (etl) at (875,3162) {Disease Class Overlap (\%)};

\draw[bar, fill=red!2!yellow] (688,2331) rectangle (721,2359);
\draw[bar, fill=red!7!yellow] (688,2375) rectangle (766,2403);
\draw[bar, fill=red!12!yellow] (688,2420) rectangle (799,2448);
\draw[bar, fill=red!16!yellow] (688,2464) rectangle (809,2492);
\draw[bar, fill=red!21!yellow] (688,2509) rectangle (812,2537);
\draw[bar, fill=red!25!yellow] (688,2553) rectangle (814,2581);
\draw[bar, fill=red!30!yellow] (688,2597) rectangle (829,2625);
\draw[bar, fill=red!34!yellow] (688,2642) rectangle (844,2670);
\draw[bar, fill=red!39!yellow] (688,2686) rectangle (845,2714);
\draw[bar, fill=red!43!yellow] (688,2731) rectangle (848,2759);
\draw[bar, fill=red!48!yellow] (688,2775) rectangle (862,2803);
\draw[bar, fill=red!52!yellow] (688,2819) rectangle (879,2847);
\draw[bar, fill=red!57!yellow] (688,2864) rectangle (922,2892);
\draw[bar, fill=red!62!yellow] (688,2908) rectangle (959,2936);
\draw[bar, fill=red!67!yellow] (688,2953) rectangle (967,2981);
\draw[bar, fill=red!72!yellow] (688,2997) rectangle (991,3025);

\node[blab] (el1) at (662,2345) {Eye Diseases};
\node[blab] (el2) at (662,2389) {Otorhinolaryngologic Diseases};
\node[blab] (el3) at (662,2434) {Infections};
\node[blab] (el4) at (662,2478) {Stomatognathic Diseases};
\node[blab] (el5) at (662,2523) {Immune System Diseases};
\node[blab] (el6) at (662,2567) {Respiratory Tract Diseases};
\node[blab] (el7) at (662,2611) {Digestive system diseases};
\node[blab] (el8) at (662,2656) {Endocrine System Diseases};
\node[blab] (el9) at (662,2700) {Behavior and Behavior Mechanisms};
\node[blab] (el10) at (662,2745) {Neoplasms};
\node[blab] (el11) at (662,2789) {Cardiovascular Diseases};
\node[blab] (el12) at (662,2833) {Musculoskeletal Diseases};
\node[blab] (el13) at (662,2878) {Hemic and Lymphatic Diseases};
\node[blab] (el14) at (662,2922) {Nutritional and metabolic Siseases};
\node[blab] (el15) at (662,2967) {Mental Disorders};
\node[blab] (el16) at (662,3011) {Nervous System Diseases};

% ---------------- panel F
\draw[axis] (1801,2318) -- (1801,3040) -- (2168,3040);
\draw[axis] (1801,3040) -- ++(0,20) (1924,3040) -- ++(0,20) (2046,3040) -- ++(0,20) (2168,3040) -- ++(0,20);
\draw[axis] (1801,2345) -- ++(-18,0) (1801,2389) -- ++(-18,0) (1801,2434) -- ++(-18,0) (1801,2478) -- ++(-18,0)
  (1801,2523) -- ++(-18,0) (1801,2567) -- ++(-18,0) (1801,2611) -- ++(-18,0) (1801,2656) -- ++(-18,0)
  (1801,2700) -- ++(-18,0) (1801,2745) -- ++(-18,0) (1801,2789) -- ++(-18,0) (1801,2833) -- ++(-18,0)
  (1801,2878) -- ++(-18,0) (1801,2922) -- ++(-18,0) (1801,2967) -- ++(-18,0) (1801,3011) -- ++(-18,0);
\node[tlab] (ft0) at (1801,3087) {0.0};
\node[tlab] (ft1) at (1924,3087) {0.1};
\node[tlab] (ft2) at (2046,3087) {0.2};
\node[tlab] (ft3) at (2168,3087) {0.3};
\node[ttl] (ftl) at (1985,3162) {Disease Class Overlap (\%)};

\draw[bar, fill=blue!6!cyan] (1801,2331) rectangle (1829,2359);
\draw[bar, fill=blue!10!cyan] (1801,2375) rectangle (1893,2403);
\draw[bar, fill=blue!15!cyan] (1801,2420) rectangle (1896,2448);
\draw[bar, fill=blue!19!cyan] (1801,2464) rectangle (1901,2492);
\draw[bar, fill=blue!24!cyan] (1801,2509) rectangle (1914,2537);
\draw[bar, fill=blue!28!cyan] (1801,2553) rectangle (1932,2581);
\draw[bar, fill=blue!33!cyan] (1801,2597) rectangle (1941,2625);
\draw[bar, fill=blue!37!cyan] (1801,2642) rectangle (1943,2670);
\draw[bar, fill=blue!42!cyan] (1801,2686) rectangle (1948,2714);
\draw[bar, fill=blue!46!cyan] (1801,2731) rectangle (1955,2759);
\draw[bar, fill=blue!51!cyan] (1801,2775) rectangle (1972,2803);
\draw[bar, fill=blue!55!cyan] (1801,2819) rectangle (1981,2847);
\draw[bar, fill=blue!60!cyan] (1801,2864) rectangle (1995,2892);
\draw[bar, fill=blue!64!cyan] (1801,2908) rectangle (1997,2936);
\draw[bar, fill=blue!69!cyan] (1801,2953) rectangle (2032,2981);
\draw[bar, fill=blue!74!cyan] (1801,2997) rectangle (2103,3025);

\node[blab] (fl1) at (1772,2345) {Infections};
\node[blab] (fl2) at (1772,2389) {Respiratory Tract Diseases};
\node[blab] (fl3) at (1772,2434) {Endocrine System Diseases};
\node[blab] (fl4) at (1772,2478) {Stomatognathic Diseases};
\node[blab] (fl5) at (1772,2523) {Behavior and Behavior Mechanisms};
\node[blab] (fl6) at (1772,2567) {Otorhinolaryngologic Diseases};
\node[blab] (fl7) at (1772,2611) {Nutritional and metabolic Siseases};
\node[blab] (fl8) at (1772,2656) {Immune System Diseases};
\node[blab] (fl9) at (1772,2700) {Hemic and Lymphatic Diseases};
\node[blab] (fl10) at (1772,2745) {Digestive system diseases};
\node[blab] (fl11) at (1772,2789) {Eye Diseases};
\node[blab] (fl12) at (1772,2833) {Neoplasms};
\node[blab] (fl13) at (1772,2878) {Cardiovascular Diseases};
\node[blab] (fl14) at (1772,2922) {Musculoskeletal Diseases};
\node[blab] (fl15) at (1772,2967) {Mental Disorders};
\node[blab] (fl16) at (1772,3011) {Nervous System Diseases};

\end{tikzpicture}
\end{document}
